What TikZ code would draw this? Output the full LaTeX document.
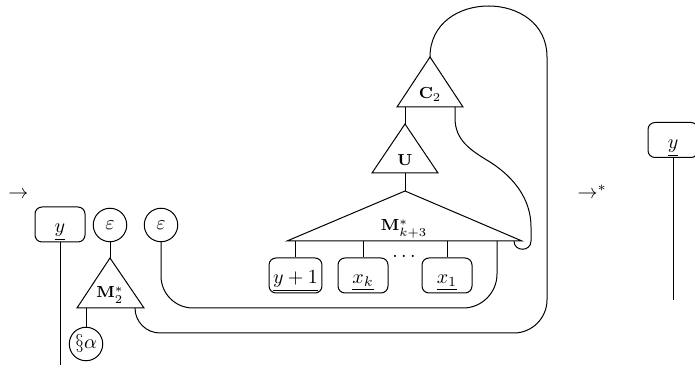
\documentclass[tikz,border=0pt]{standalone}
\begin{document}
\begin{tikzpicture}[x=0.5pt,y=-0.5pt,line width=0.5pt,
  box/.style={draw, rounded corners=3.5pt, minimum width=25pt, minimum height=17.5pt,
    inner xsep=2pt, inner ysep=1pt, text height=9pt, text depth=0.5pt},
  circ/.style={draw, circle, minimum size=16.75pt, inner sep=0.5pt},
  tlabel/.style={font=\footnotesize, anchor=base, inner sep=0pt},
  plain/.style={anchor=base west, inner sep=0pt}]
\useasboundingbox (0,0) rectangle (695,367);

% arrows between stages
\node[plain] (arL) at (8,199) {$\to$};
\node[plain] (arR) at (577,199) {$\to^*$};

% left stage
\node[box] (yL) at (60,224.5) {$\underline{y}$};
\coordinate (yLend) at (60,365);
\draw (yL) -- (yLend);

\node[circ] (e1) at (110,225) {$\varepsilon$};
\node[circ] (e2) at (161,225) {$\varepsilon$};
\node[circ] (sa) at (86,344) {$\S\alpha$};

% triangle M2*
\coordinate (M2a) at (110,258);
\coordinate (M2l) at (77,308);
\coordinate (M2r) at (144,308);
\coordinate (M2p) at (135,308);
\draw (M2a) -- (M2l) -- (M2r) -- cycle;
\node[tlabel] (M2t) at (110,298) {$\mathbf{M}^*_2$};

% triangle C2
\coordinate (C2a) at (430,57);
\coordinate (C2l) at (397,107);
\coordinate (C2r) at (463,107);
\coordinate (C2p) at (455,107);
\draw (C2a) -- (C2l) -- (C2r) -- cycle;
\node[tlabel] (C2t) at (430,99) {$\mathbf{C}_2$};

% triangle U
\coordinate (Ua) at (405,124);
\coordinate (Ul) at (372,173);
\coordinate (Ur) at (438,173);
\draw (Ua) -- (Ul) -- (Ur) -- cycle;
\node[tlabel] (Ut) at (405,166) {$\mathbf{U}$};

% triangle M*_{k+3}
\coordinate (Mka) at (405,191);
\coordinate (Mkl) at (287,241);
\coordinate (Mkr) at (522,241);
\coordinate (MkP) at (497,241);
\coordinate (MkH) at (514,241);
\draw (Mka) -- (Mkl) -- (Mkr) -- cycle;
\node[tlabel] (Mkt) at (404,231) {$\mathbf{M}^*_{k+3}$};

% boxes below M*_{k+3}
\node[box] (yp1) at (295.5,275.5) {$\underline{y+1}$};
\node[box] (xk) at (363,275.5) {$\underline{x_k}$};
\node[box] (x1) at (447,275.5) {$\underline{x_1}$};
\node[anchor=base, inner sep=0pt] (dots) at (404,258) {$\dots$};

\draw (yp1 |- Mkl) -- (yp1);
\draw (xk |- Mkl) -- (xk);
\draw (x1 |- Mkl) -- (x1);

% stacking wires
\draw (e1) -- (M2a);
\draw (sa |- M2l) -- (sa);
\draw (Ua |- C2l) -- (Ua);
\draw (Ua |- Ul) -- (Mka);

% epsilon wire to the base of M*_{k+3}
\draw (e2) -- (161,276) .. controls (161,293.7) and (175.3,308) .. (193,308)
  -- (463,308) .. controls (481.8,308) and (497,292.8) .. (497,274) -- (MkP);

% outer loop from M2* to the apex of C2
\draw (M2p) .. controls (135,321.8) and (146.2,333) .. (160,333)
  -- (514,333) .. controls (532,333) and (547,318) .. (547,300)
  -- (547,57) .. controls (547,-11) and (430,-11) .. (C2a);

% hook from M*_{k+3} corner up to C2
\draw (MkH) .. controls (514,252) and (531,252) .. (531,241) -- (531,227)
  .. controls (531,200) and (515,178) .. (490,162)
  .. controls (470,150) and (455,140) .. (455,118) -- (C2p);

% right stage
\node[box] (yR) at (673,140) {$\underline{y}$};
\coordinate (yRend) at (673,300);
\draw (yR) -- (yRend);
\end{tikzpicture}
\end{document}
